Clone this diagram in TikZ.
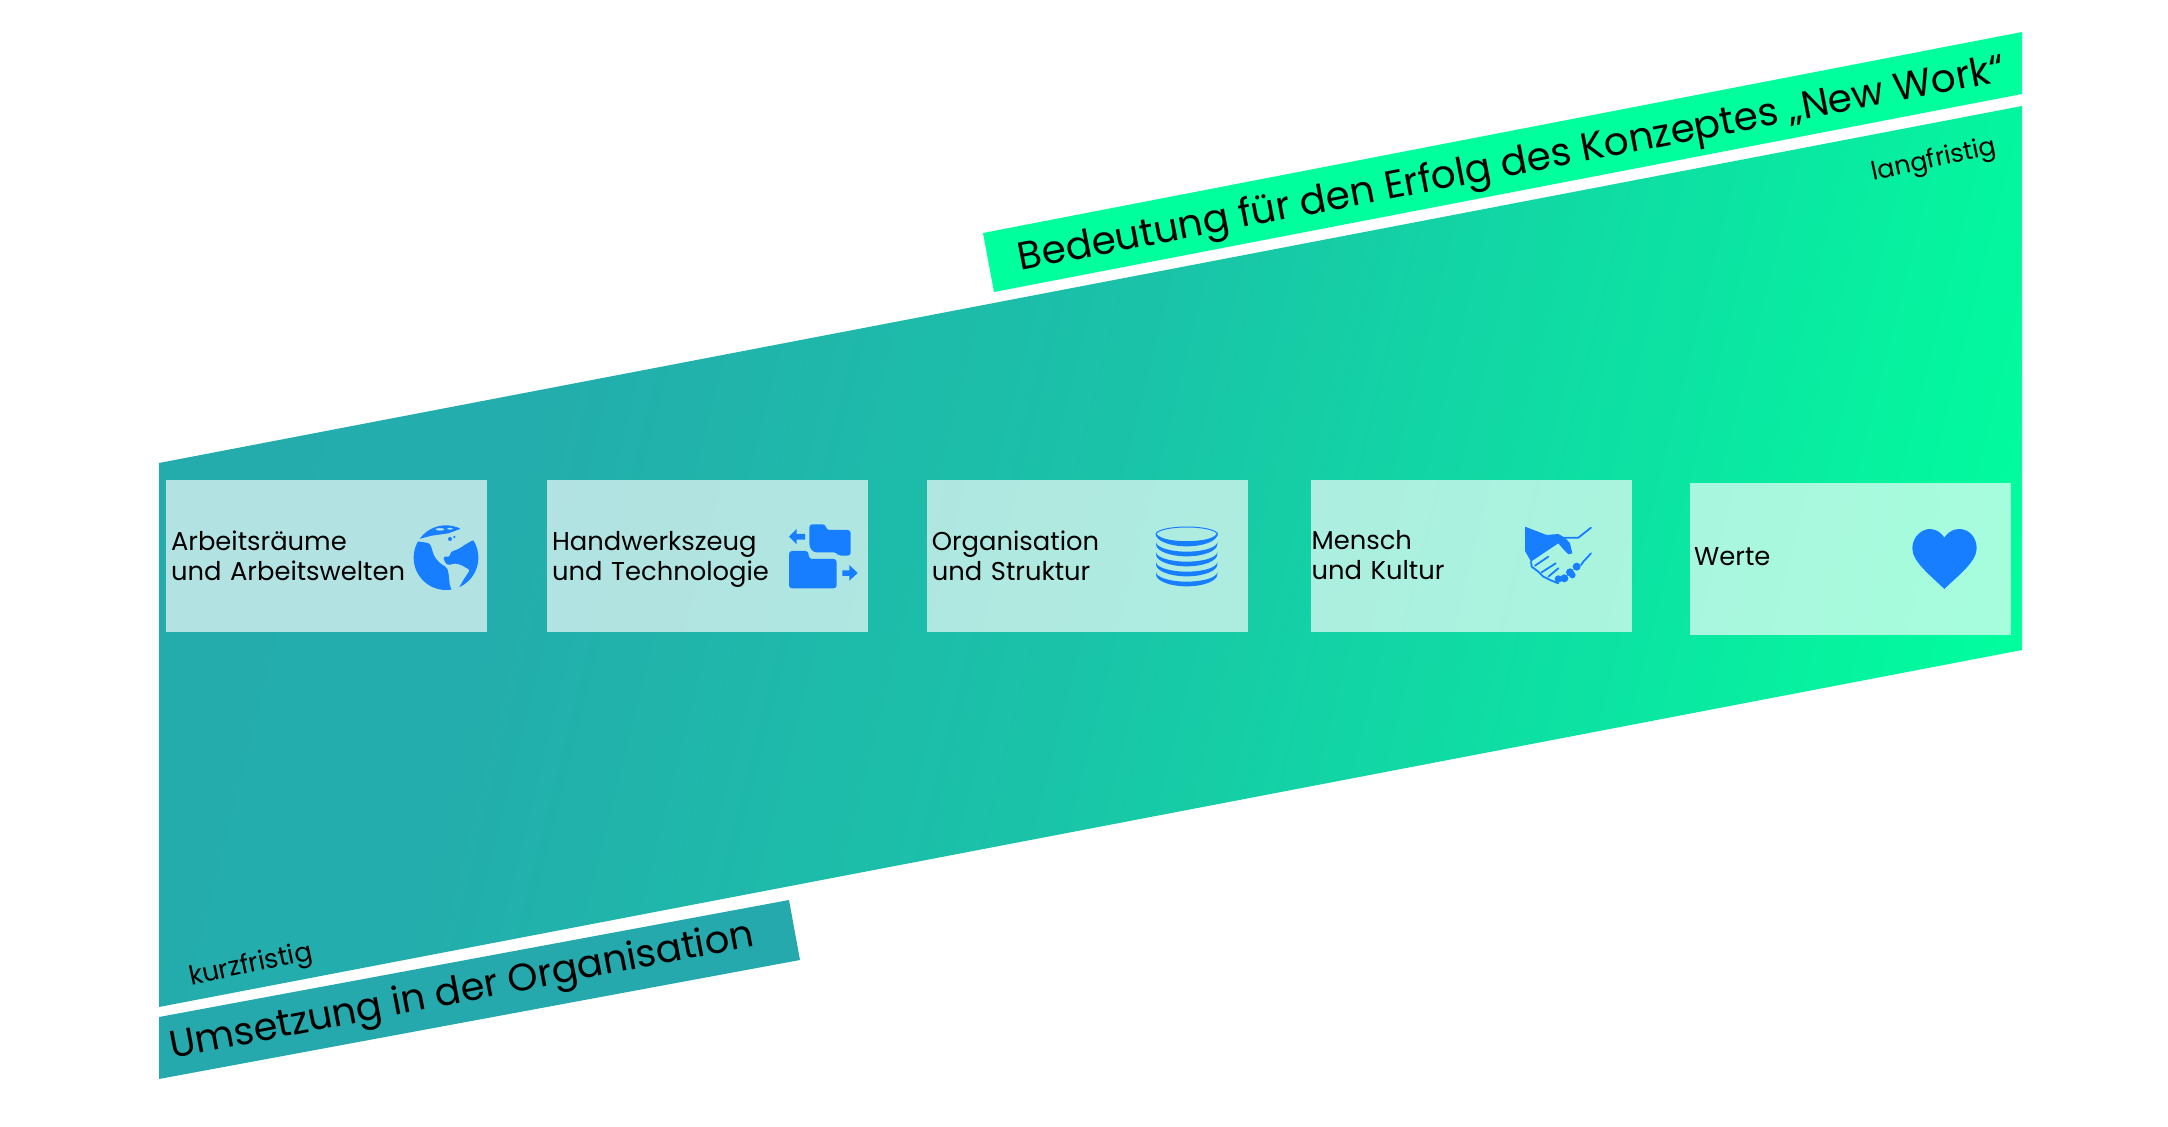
\documentclass[tikz,border=0pt]{standalone}
\usepackage{fontspec}
\setmainfont{Poppins}
\usetikzlibrary{positioning}

\definecolor{bandteal}{HTML}{25A9AD}
\definecolor{bandgreen}{HTML}{00FF9D}
\definecolor{iconblue}{HTML}{177EFF}
\pgfdeclarehorizontalshading{bandfade}{100bp}{color(0bp)=(bandteal); color(33bp)=(bandteal!95!bandgreen); color(50bp)=(bandteal!70!bandgreen); color(66bp)=(bandteal!32!bandgreen); color(78bp)=(bandgreen); color(100bp)=(bandgreen)}

\tikzset{
    tile/.style={rectangle, fill=white, fill opacity=.65, text opacity=1, minimum height=76pt, text width=155.5pt, inner xsep=2.5pt, inner ysep=0pt, align=left, font=\fontsize{12.9}{15.2}\selectfont, execute at begin node={\rule{0pt}{#1}}, execute at end node=\strut},
    tile/.default=14.3pt,
    title/.style={rotate=10.9, inner sep=0pt, font=\fontsize{19.5}{24}\selectfont},
    term/.style={rotate=12, inner sep=0pt, font=\fontsize{12.7}{15}\selectfont},
    icon/.style={fill=iconblue, draw=none},
    iconline/.style={draw=iconblue, line width=.9pt, line cap=round, line join=round}
}

\begin{document}
\begin{tikzpicture}[x=.5pt, y=-.5pt]
        \useasboundingbox (0,0) rectangle (2168,1127);

        % band and strips
        \shade[shading=bandfade, shading angle=-14] (159,463) -- (2022,106) -- (2022,650) -- (159,1007) -- cycle;
        \fill[bandgreen] (983,233) -- (2022,32) -- (2022,94) -- (994,292) -- cycle;
        \fill[bandteal] (159,1017) -- (789,900) -- (800,960) -- (159,1079) -- cycle;

        \node[title] (impact) at (1512,166) {Bedeutung für den Erfolg des Konzeptes „New Work“};
        \node[title, font=\fontsize{19.2}{24}\selectfont] (rollout) at (462,993) {Umsetzung in der Organisation};
        \node[term] (longterm) at (1934,161) {langfristig};
        \node[term, font=\fontsize{13.2}{15}\selectfont] (shortterm) at (251,966) {kurzfristig};

        % tiles
        \node[tile] (spaces) at (326.5,556) {Arbeitsräume\\und Arbeitswelten};
        \node[tile, right=29.65pt of spaces] (tools) {Handwerkszeug\\und Technologie};
        \node[tile, right=28.95pt of tools] (structure) {Organisation\\und Struktur};
        \node[tile=13.2pt, right=31pt of structure, inner xsep=.5pt, text width=159.5pt] (culture) {Mensch\\und Kultur};
        \node[tile=9.6pt, right=28.9pt of culture, yshift=-1.5pt, inner xsep=2pt, text width=156.5pt] (values) {Werte};

        % globe
        \begin{scope}[shift={(405,515)}, scale=1/3]
            \clip (123,128) circle (97);
            \fill[icon, rounded corners=1pt] (20,78) -- (45,80) -- (75,85) -- (88,125) -- (105,145) -- (125,157) -- (130,170) -- (135,215) -- (150,240) -- (0,240) -- cycle;
            \fill[icon, even odd rule] (42,72) -- (80,62) -- (130,55) -- (165,42) -- (165,20) -- (42,20) -- cycle (105,43) ellipse (14 and 4) (135,41) ellipse (9 and 3);
            \fill[icon, rounded corners=1pt] (135,112) -- (165,100) -- (175,92) -- (205,75) -- (240,75) -- (240,240) -- (150,240) -- (175,195) -- (195,165) -- (165,148) -- (145,145) -- (130,152) -- (118,140) -- (115,125) -- (135,125) -- cycle;
            \fill[icon] (135,72) circle (6) (148,66) circle (4);
        \end{scope}

        % folders
        \begin{scope}[shift={(780,515)}, scale=1/3]
            \fill[icon, rounded corners=1.5pt] (88,28) -- (137,28) -- (139,45) -- (212,45) -- (212,122) -- (175,122) -- (170,112) -- (100,112) -- (88,95) -- cycle;
            \fill[icon, rounded corners=1.5pt] (27,108) -- (85,108) -- (87,132) -- (170,132) -- (170,220) -- (27,220) -- cycle;
            \fill[icon] (27,65) -- (50,42) -- (50,57) -- (75,57) -- (75,74) -- (50,74) -- (50,88) -- cycle;
            \fill[icon] (233,174) -- (208,150) -- (208,166) -- (187,166) -- (187,183) -- (208,183) -- (208,197) -- cycle;
        \end{scope}

        % database
        \begin{scope}[shift={(1145,515)}, scale=1/3]
            \draw[iconline, line width=.5pt] (125,58) ellipse (92 and 22);
            \foreach \y in {58,88,118,148,178}
                \fill[icon] (33,\y-7) -- (33,\y) arc[start angle=180, end angle=0, x radius=92, y radius=36] -- (217,\y-7) arc[start angle=0, end angle=180, x radius=92, y radius=29] -- cycle;
        \end{scope}

        % handshake
        \begin{scope}[shift={(1515,515)}, scale=1/3]
            \fill[icon] (30,35) -- (95,60) -- (130,57) -- (150,68) -- (165,85) -- (172,115) -- (160,118) -- (147,105) -- (130,85) -- (85,115) -- (48,140) -- (30,108) -- cycle;
            \draw[iconline] (150,68) -- (190,68) -- (228,38);
            \draw[iconline] (228,115) -- (205,140) -- (198,150);
            \draw[iconline] (48,140) -- (50,155) -- (70,170) -- (85,185) -- (105,195) -- (130,205);
            \draw[iconline] (60,152) -- (100,125);
            \draw[iconline] (80,172) -- (122,145);
            \draw[iconline] (100,185) -- (130,160);
            \fill[icon] (130,192) circle (11) (148,190) circle (12) (165,172) circle (12) (185,155) circle (12) (172,180) circle (10);
        \end{scope}

        % heart
        \begin{scope}[shift={(1900,515)}, scale=1/3]
            \fill[icon] (133,222) .. controls (90,180) and (37,140) .. (37,100) .. controls (37,65) and (65,42) .. (90,42) .. controls (110,42) and (125,55) .. (133,68) .. controls (141,55) and (156,42) .. (178,42) .. controls (205,42) and (230,65) .. (230,100) .. controls (230,140) and (176,180) .. (133,222) -- cycle;
        \end{scope}
    \end{tikzpicture}
\end{document}
